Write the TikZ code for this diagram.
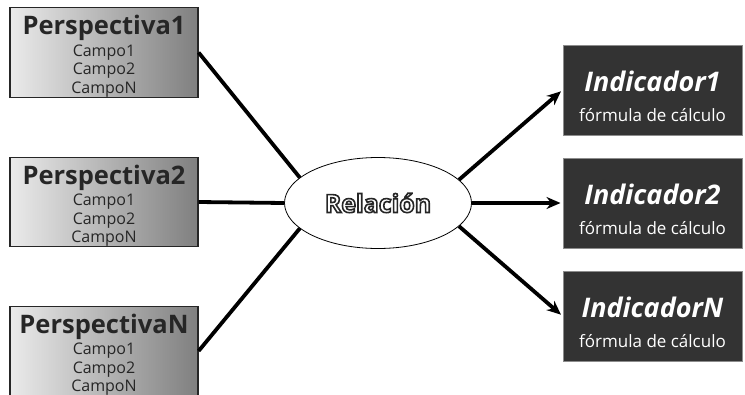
\documentclass[tikz,border=0pt]{standalone}
\usepackage{fontspec}
\setmainfont{Open Sans}
\usetikzlibrary{arrows.meta,shapes.geometric}
% outlined text (fill + stroke)
\newcommand{\outlinetext}[1]{\special{pdf:code 2 Tr 1.6 w 0.15 0.15 0.15 RG}#1\special{pdf:code 0 Tr}}

\begin{document}
\begin{tikzpicture}[x=1pt,y=-1pt,
  perspectiva/.style={draw=black!85,line width=1.2pt,left color=black!8,right color=black!50,minimum width=188pt,minimum height=89pt,inner sep=0pt,align=center,font=\fontsize{16}{18.5}\selectfont,text=black!85},
  indicador/.style={draw=black!45,line width=1pt,fill=black!80,minimum width=179pt,minimum height=90pt,inner sep=0pt,align=center,text=white,font=\fontsize{17}{30}\selectfont},
  relacion/.style={ellipse,draw,thick,fill=white,minimum width=187pt,minimum height=91pt,inner sep=0pt},
  enlace/.style={line width=3.8pt},
  flecha/.style={line width=3.8pt,-{Stealth[length=14pt,width=12pt]},shorten >=2pt}]
  \useasboundingbox (0,0) rectangle (745,394);
  \clip (0,0) rectangle (745,394);
  %left
  \node[perspectiva] (p1) at (104,52.5) {{\bfseries\fontsize{25.5}{25}\selectfont\rule{0pt}{27pt}Perspectiva1}\\[3pt]Campo1\\Campo2\\CampoN};
  \node[perspectiva] (p2) at (104,202) {{\bfseries\fontsize{25.5}{25}\selectfont\rule{0pt}{27pt}Perspectiva2}\\[3pt]Campo1\\Campo2\\CampoN};
  \node[perspectiva] (pn) at (104,351) {{\bfseries\fontsize{25.5}{25}\selectfont\rule{0pt}{27pt}PerspectivaN}\\[3pt]Campo1\\Campo2\\CampoN};
  %middle
  \node[relacion] (rel) at (378,203) {\color{white}\bfseries\fontsize{25}{25}\selectfont\outlinetext{Relación}};
  %right
  \node[indicador] (i1) at (652.5,90) {{\bfseries\itshape\fontsize{27}{27}\selectfont\rule{0pt}{34pt}Indicador1}\\fórmula de cálculo};
  \node[indicador] (i2) at (652.5,203) {{\bfseries\itshape\fontsize{27}{27}\selectfont\rule{0pt}{34pt}Indicador2}\\fórmula de cálculo};
  \node[indicador] (in) at (652.5,316) {{\bfseries\itshape\fontsize{27}{27}\selectfont\rule{0pt}{34pt}IndicadorN}\\fórmula de cálculo};
  %connectors
  \draw[enlace] (p1.east) -- (rel.162);
  \draw[enlace] (p2.east) -- (rel.west);
  \draw[enlace] (pn.east) -- (rel.198);
  \draw[flecha] (rel.16) -- (i1.west);
  \draw[flecha] (rel.east) -- (i2.west);
  \draw[flecha] (rel.-16) -- (in.west);
\end{tikzpicture}
\end{document}
